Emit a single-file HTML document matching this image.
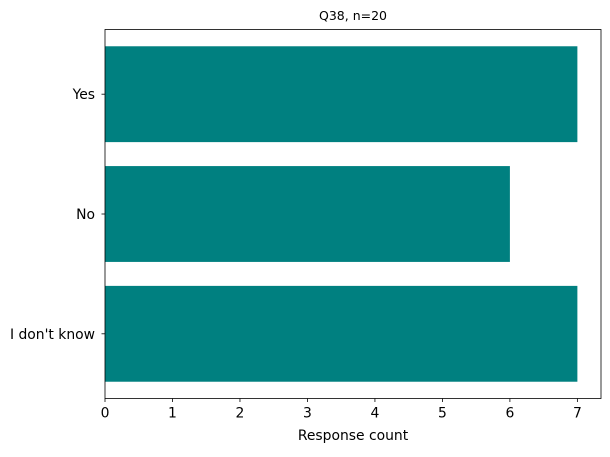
<!DOCTYPE html>
<html><head><meta charset="utf-8"><style>
body{margin:0;background:#fff;}
svg text{font-family:"DejaVu Sans","Liberation Sans",sans-serif;font-size:13.9px;fill:#000;}
</style></head><body>
<svg width="610" height="452" xmlns="http://www.w3.org/2000/svg">
<g id="plot"></g>
</svg>
<script>
const categories = ["I don't know","No","Yes"];
const counts = [7,6,7];
const xTicks = [0,1,2,3,4,5,6,7];
const L=105,R=601,T=29.5,B=398.5;
const xMax=7.35, yMin=-0.54, yMax=2.54;
const sx=v=>L+(v/xMax)*(R-L);
const sy=v=>B-(v-yMin)/(yMax-yMin)*(B-T);
const g=document.getElementById('plot');
const NS='http://www.w3.org/2000/svg';
function el(t,a,txt){const e=document.createElementNS(NS,t);for(const k in a)e.setAttribute(k,a[k]);if(txt!==undefined)e.textContent=txt;g.appendChild(e);return e;}
const bh=(sy(0)-sy(0.8));
categories.forEach((c,i)=>{
  const r=el('rect',{x:sx(0),y:sy(i+0.4),width:sx(counts[i])-sx(0),height:bh,fill:'#008080'});
  
  
  el('line',{x1:L,x2:L-3.5,y1:sy(i),y2:sy(i),stroke:'#000','stroke-width':0.8});
  const t=el('text',{x:L-10,y:sy(i)+5,'text-anchor':'end'},c);
  
  
});
xTicks.forEach(v=>{
  el('line',{x1:sx(v),x2:sx(v),y1:B,y2:B+3.5,stroke:'#000','stroke-width':0.8});
  const t=el('text',{x:sx(v),y:B+19,'text-anchor':'middle'},v);
  
  
});
const f=el('rect',{x:L,y:T,width:R-L,height:B-T,fill:'none',stroke:'#000','stroke-width':0.8});


const xt=el('text',{x:(L+R)/2,y:440,'text-anchor':'middle'},'Response count');


const tt=el('text',{x:(L+R)/2,y:20,'text-anchor':'middle','style':'font-size:12.5px'},'Q38, n=20');


</script>
</body></html>
